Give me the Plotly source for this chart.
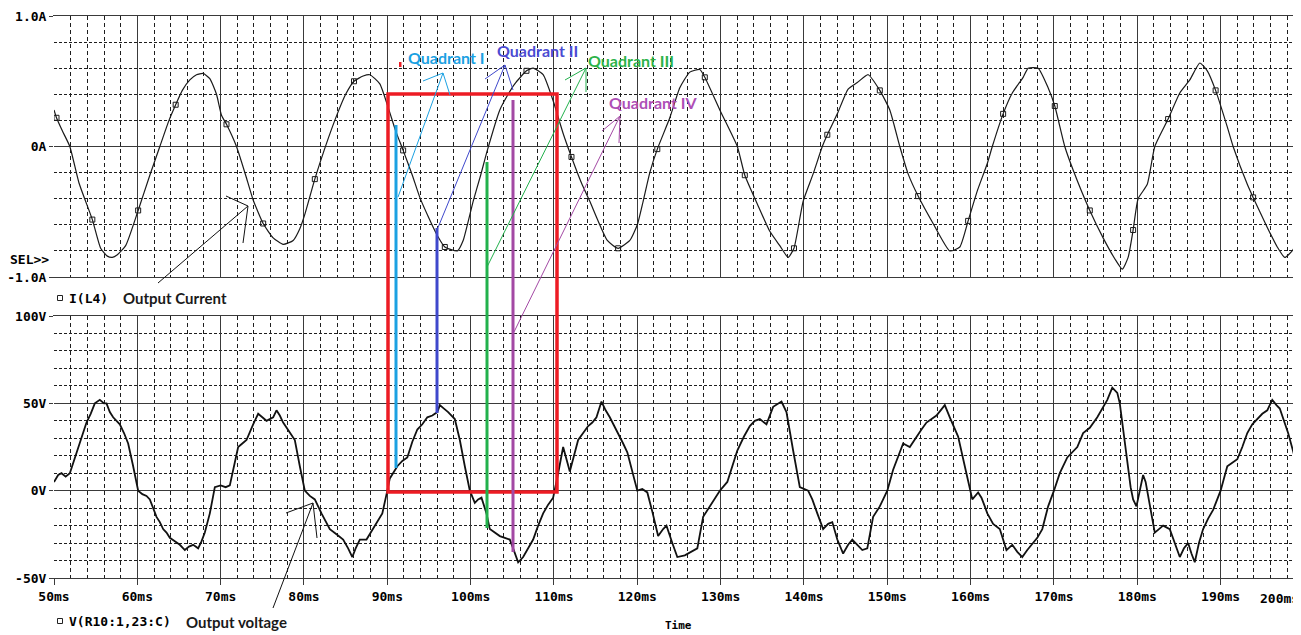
import plotly.graph_objects as go

# ---------------- data ----------------
x_ticks = [50, 60, 70, 80, 90, 100, 110, 120, 130, 140, 150, 160, 170, 180, 190, 200]
x_labels = ["50ms", "60ms", "70ms", "80ms", "90ms", "100ms", "110ms", "120ms", "130ms",
            "140ms", "150ms", "160ms", "170ms", "180ms", "190ms", "200ms"]
i_ticks = [-1, 0, 1]
i_labels = ["-1.0A", "0A", "1.0A"]
v_ticks = [-50, 0, 50, 100]
v_labels = ["-50V", "0V", "50V", "100V"]

# output current I(L4)  (time ms, amps)
cur_t = [50.0, 50.3, 51.0, 51.9, 53.0, 54.6, 55.6, 56.4, 57.0, 57.6, 58.6, 60.1, 61.5, 62.7, 63.8,
         64.6, 65.4, 66.3, 67.1, 67.9, 68.7, 69.5, 70.1, 70.7, 71.9, 73.0, 73.9, 75.1, 76.3, 77.5,
         78.7, 79.5, 80.1, 81.3, 82.9, 84.0, 85.0, 86.0, 87.1, 87.9, 89.1, 90.1, 91.0, 91.9, 93.0,
         93.9, 95.0, 95.9, 96.9, 98.4, 99.1, 100.3, 101.2, 102.0, 103.5, 104.5, 105.3, 106.7, 107.5,
         108.7, 109.9, 111.1, 112.1, 113.3, 114.3, 116.4, 117.7, 119.1, 120.0, 120.7, 121.5, 122.4,
         123.9, 125.1, 126.3, 127.5, 128.1, 129.9, 132.0, 132.9, 134.4, 135.9, 137.1, 138.1, 138.8,
         139.9, 141.1, 142.2, 142.8, 144.0, 145.3, 146.4, 147.7, 149.1, 150.3, 151.5, 152.5, 153.7,
         155.5, 157.5, 158.7, 159.7, 160.8, 162.0, 162.6, 163.9, 165.0, 166.3, 166.9, 168.1, 169.3,
         170.1, 171.3, 172.3, 174.3, 175.9, 177.3, 178.2, 178.9, 179.5, 180.1, 181.2, 182.1, 183.7,
         185.1, 186.3, 187.5, 188.4, 189.4, 190.8, 191.5, 193.2, 193.9, 195.6, 196.8, 197.7, 198.7,
         199.5, 200.0]
cur_v = [0.28, 0.22, 0.12, 0.0, -0.28, -0.56, -0.78, -0.84, -0.85, -0.83, -0.76, -0.49, -0.22, 0.0, 0.2,
         0.32, 0.43, 0.51, 0.55, 0.56, 0.52, 0.40, 0.24, 0.17, 0.0, -0.22, -0.41, -0.59, -0.70, -0.75,
         -0.72, -0.63, -0.52, -0.25, 0.06, 0.25, 0.40, 0.50, 0.54, 0.55, 0.48, 0.30, 0.12, -0.03, -0.22,
         -0.39, -0.55, -0.67, -0.77, -0.80, -0.72, -0.42, -0.22, -0.03, 0.28, 0.40, 0.48, 0.58, 0.60,
         0.55, 0.35, 0.10, -0.08, -0.28, -0.42, -0.72, -0.78, -0.72, -0.60, -0.42, -0.20, -0.02,
         0.22, 0.45, 0.57, 0.59, 0.53, 0.28, 0.0, -0.22, -0.44, -0.65, -0.76, -0.85, -0.78,
         -0.42, -0.21, 0.0, 0.09, 0.25, 0.44, 0.49, 0.55, 0.43, 0.28, 0.0, -0.21, -0.38,
         -0.59, -0.80, -0.77, -0.57, -0.34, -0.13, 0.0, 0.25, 0.41, 0.53, 0.60, 0.60, 0.45,
         0.31, 0.0, -0.18, -0.49, -0.70, -0.86, -0.94, -0.85, -0.64, -0.40, -0.29, 0.0, 0.21,
         0.41, 0.51, 0.64, 0.58, 0.43, 0.15, 0.0, -0.29, -0.39, -0.62, -0.77, -0.85, -0.79,
         -0.64, -0.55]

# trace symbol positions on I(L4)
mk_t = [50.3, 54.6, 60.1, 64.6, 70.7, 75.1, 81.3, 86.0, 91.9, 96.9, 106.7, 112.1, 117.7, 122.4,
        128.1, 132.9, 138.8, 142.8, 149.1, 153.7, 159.7, 163.9, 170.1, 174.3, 179.5, 183.7, 189.4,
        193.9, 199.5]
mk_v = [0.22, -0.56, -0.49, 0.32, 0.17, -0.59, -0.25, 0.50, -0.03, -0.77, 0.58, -0.08, -0.78, -0.02,
        0.53, -0.22, -0.78, 0.09, 0.43, -0.38, -0.57, 0.25, 0.31, -0.49, -0.64, 0.21, 0.43,
        -0.39, -0.64]

# output voltage V(R10:1,23:C)  (time ms, volts)
volt_t = [50.0, 50.5, 50.9, 51.4, 51.9, 52.4, 52.9, 53.4, 53.9, 54.4, 54.9, 55.5, 56.0, 56.3, 56.7,
          57.1, 57.5, 57.9, 58.4, 58.9, 59.5, 60.1, 60.6, 61.1, 61.5, 62.3, 62.7, 63.1, 63.5, 63.9,
          64.5, 65.1, 65.7, 66.2, 66.7, 67.3, 67.7, 68.1, 68.7, 69.3, 70.0, 70.6, 71.1, 71.6, 72.1,
          72.6, 73.1, 73.9, 74.5, 75.0, 75.5, 76.3, 76.7, 77.1, 77.5, 78.2, 78.9, 79.5, 80.1, 80.7,
          81.3, 82.1, 83.1, 83.9, 84.7, 85.3, 85.8, 86.2, 86.7, 87.5, 88.0, 88.5, 89.4, 90.0, 90.3,
          91.2, 91.8, 92.4, 93.0, 93.6, 94.2, 94.8, 95.4, 96.0, 96.3, 96.8, 97.3, 98.1, 98.7, 99.3,
          99.9, 100.5, 100.9, 101.3, 101.9, 102.3, 102.9, 103.5, 104.1, 104.7, 105.1, 105.7, 106.3,
          106.9, 107.5, 108.1, 108.7, 109.3, 109.9, 110.5, 111.1, 111.5, 111.9, 112.4, 112.9, 113.5,
          114.1, 114.6, 115.1, 115.7, 116.2, 116.7, 117.7, 118.3, 118.8, 119.4, 120.0, 120.6, 121.2,
          121.8, 122.5, 123.1, 123.5, 124.2, 124.8, 125.7, 126.5, 127.2, 127.9, 128.7, 129.9, 130.8,
          131.4, 132.0, 132.8, 133.5, 134.1, 134.7, 135.5, 136.3, 137.3, 137.9, 138.7, 139.5, 140.5,
          141.0, 141.6, 142.3, 142.9, 143.4, 144.0, 144.7, 145.3, 145.8, 146.4, 147.0, 147.6, 148.3,
          149.1, 150.0, 150.7, 151.3, 151.9, 152.7, 153.5, 154.1, 154.7, 155.3, 155.9, 156.4, 156.9,
          157.5, 158.5, 159.3, 160.2, 160.9, 161.3, 161.7, 162.0, 162.7, 163.5, 164.3, 165.0, 165.6,
          166.2, 166.8, 167.5, 168.0, 168.6, 169.3, 170.0, 170.7, 171.6, 172.2, 172.8, 173.5, 174.3,
          175.2, 175.8, 176.4, 177.0, 177.6, 177.9, 178.3, 178.7, 179.2, 179.5, 179.9, 180.3, 180.7,
          181.0, 181.3, 181.7, 182.1, 182.6, 183.1, 183.9, 184.5, 185.1, 185.6, 186.1, 186.5, 186.9,
          187.4, 187.9, 188.5, 189.1, 190.0, 190.8, 191.4, 192.0, 192.6, 193.2, 193.8, 194.4, 195.0,
          195.6, 196.2, 196.7, 197.1, 197.6, 198.1, 198.9, 199.6, 200.0]
volt_v = [5, 9, 10, 8, 10, 17, 25, 31, 39, 44, 50, 52, 50, 50, 45,
          42, 40, 38, 33, 27, 14, 0, -2, -3, -5, -15, -18, -22, -24, -27,
          -29, -31, -34, -32, -31, -33, -29, -24, -13, 2, 3, 2, 3, 14, 25,
          27, 29, 38, 44, 42, 40, 42, 46, 43, 39, 34, 29, 14, 0, -3,
          -5, -13, -22, -25, -28, -33, -38, -33, -28, -28, -24, -20, -13, 0, 7,
          14, 17, 19, 28, 35, 38, 42, 43, 45, 49, 47, 45, 41, 29, 14,
          0, -7, -5, -4, -13, -22, -24, -26, -27, -28, -33, -41, -38,
          -33, -28, -20, -13, -8, -4, 10, 25, 18, 11, 20, 29, 33,
          37, 39, 42, 51, 46, 42, 33, 27, 22, 11, 0, 1, -1,
          -12, -26, -22, -20, -30, -38, -37, -35, -33, -15, -9, 0, 5,
          14, 23, 31, 37, 40, 41, 38, 48, 51, 45, 23, 2, 0,
          -5, -13, -22, -19, -18, -28, -36, -31, -28, -31, -34, -33, -15,
          -9, 0, 12, 20, 27, 25, 31, 35, 39, 41, 43, 46, 49,
          42, 31, 14, -5, -1, -4, -9, -13, -19, -22, -34, -31, -35,
          -38, -34, -30, -27, -22, -9, 0, 10, 19, 22, 25, 33, 36,
          42, 47, 52, 59, 56, 50, 35, 19, 2, -5, -9, 0, 9,
          5, -3, -14, -24, -22, -20, -22, -30, -38, -33, -30, -36, -41,
          -30, -22, -16, -11, 0, 14, 16, 18, 25, 33, 38, 41, 44,
          46, 52, 49, 47, 40, 33, 19, 2, -4]

# ---------------- layout helpers ----------------
# the page has an 8px body margin, so the figure is drawn 8px in from the
# window corner; page pixel positions are converted to figure paper coords.
OFF = 8
W, H = 1301 - OFF, 635 - OFF


def px(x):
    return (x - OFF) / W


def py(y):
    return 1 - (y - OFF) / H


MONO = "DejaVu Sans Mono"
SANS = "Lato"
GRID_SOLID = "#3a3a3a"
GRID_DASH = "#1e1e1e"

fig = go.Figure()
fig.add_trace(go.Scatter(x=cur_t, y=cur_v, mode="lines", xaxis="x", yaxis="y",
                         line=dict(color="#1a1a1a", width=1.2, shape="spline", smoothing=0.5),
                         showlegend=False, hoverinfo="skip"))
fig.add_trace(go.Scatter(x=mk_t, y=mk_v, mode="markers", xaxis="x", yaxis="y",
                         marker=dict(symbol="square-open", size=5, color="#1a1a1a", line=dict(width=1)),
                         showlegend=False, hoverinfo="skip"))
fig.add_trace(go.Scatter(x=volt_t, y=volt_v, mode="lines", xaxis="x2", yaxis="y2",
                         line=dict(color="#111111", width=1.8),
                         showlegend=False, hoverinfo="skip"))

xdom = [px(54), 1.0]
xcommon = dict(range=[50, 50 + (1301 - 54) / 8.333], domain=xdom,
               tickvals=x_ticks[:-1], ticktext=x_labels[:-1], automargin=False,
               showgrid=True, gridcolor=GRID_SOLID, gridwidth=1, zeroline=False,
               showline=True, linecolor=GRID_SOLID, linewidth=1.3, mirror=True,
               minor=dict(dtick=2, tick0=50, showgrid=True, gridcolor=GRID_DASH,
                          griddash="4px,3px", gridwidth=1, ticks=""))

tickfont = dict(family=MONO, size=13, color="#000000", weight="bold")

fig.update_layout(
    width=W, height=H,
    margin=dict(l=0, r=0, t=0, b=0),
    paper_bgcolor="white", plot_bgcolor="white",
    showlegend=False,
    xaxis=dict(**xcommon, anchor="y", showticklabels=False, ticks=""),
    xaxis2=dict(**xcommon, anchor="y2", showticklabels=True, ticks="outside", ticklen=6,
                tickcolor=GRID_SOLID, tickfont=tickfont),
    yaxis=dict(domain=[py(277), py(16)], range=[-1, 1], anchor="x", automargin=False,
               tickvals=i_ticks, ticktext=i_labels, tickfont=tickfont,
               ticks="outside", ticklen=4, tickcolor=GRID_SOLID,
               showgrid=True, gridcolor=GRID_SOLID, gridwidth=1, zeroline=False,
               showline=True, linecolor="rgba(0,0,0,0)", mirror=True,
               minor=dict(dtick=0.2, tick0=0, showgrid=True, gridcolor=GRID_DASH,
                          griddash="3px,2px", gridwidth=1, ticks="")),
    yaxis2=dict(domain=[py(578), py(316)], range=[-50, 100], anchor="x2", automargin=False,
                tickvals=v_ticks, ticktext=v_labels, tickfont=tickfont,
                ticks="outside", ticklen=4, tickcolor=GRID_SOLID,
                showgrid=True, gridcolor=GRID_SOLID, gridwidth=1, zeroline=False,
                showline=True, linecolor="rgba(0,0,0,0)", mirror=True,
                minor=dict(dtick=10, tick0=0, showgrid=True, gridcolor=GRID_DASH,
                           griddash="3px,2px", gridwidth=1, ticks="")),
)

# ---------------- overlays ----------------
C_Q1 = "#1ba1e2"
C_Q2 = "#3f48cc"
C_Q3 = "#22b14c"
C_Q4 = "#a349a4"
C_RED = "#ed1c24"

shapes = []


def seg(x0, y0, x1, y1, color, width):
    shapes.append(dict(type="line", xref="paper", yref="paper", x0=px(x0), y0=py(y0),
                       x1=px(x1), y1=py(y1), line=dict(color=color, width=width), layer="above"))


# red box
shapes.append(dict(type="rect", xref="paper", yref="paper", x0=px(388), x1=px(557),
                   y0=py(492), y1=py(94), line=dict(color=C_RED, width=3.5), layer="above"))
# small red tick
shapes.append(dict(type="rect", xref="paper", yref="paper", x0=px(399), x1=px(401.5),
                   y0=py(67), y1=py(62), line=dict(width=0), fillcolor=C_RED, layer="above"))

# thick coloured markers
seg(396, 125, 396, 468, C_Q1, 3)
seg(437, 228, 437, 413, C_Q2, 3)
seg(487, 162, 487, 528, C_Q3, 3)
seg(513, 100, 513, 552, C_Q4, 3)

# thin arrows
seg(398, 197, 443, 73, C_Q1, 1)
seg(443, 73, 423, 81, C_Q1, 1)
seg(443, 73, 450, 95, C_Q1, 1)

seg(437, 230, 505, 65, C_Q2, 1)
seg(505, 65, 485, 79, C_Q2, 1)
seg(505, 65, 513, 90, C_Q2, 1)

seg(487, 267, 586, 68, C_Q3, 1)
seg(586, 68, 565, 80, C_Q3, 1)
seg(586, 68, 586, 92, C_Q3, 1)

seg(514, 332, 620, 116, C_Q4, 1)
seg(620, 116, 602, 131, C_Q4, 1)
seg(620, 116, 619, 143, C_Q4, 1)

seg(158, 283, 248, 206, "#111111", 1)
seg(248, 206, 226, 196, "#111111", 1)
seg(248, 206, 243, 243, "#111111", 1)

seg(273, 608, 313, 503, "#111111", 1)
seg(313, 503, 286, 513, "#111111", 1)
seg(313, 503, 317, 538, "#111111", 1)

# legend symbols
for yy in (298, 621):
    shapes.append(dict(type="rect", xref="paper", yref="paper", x0=px(57.5), x1=px(62.5),
                       y0=py(yy + 2.5), y1=py(yy - 2.5), line=dict(color="#222", width=1)))

fig.update_layout(shapes=shapes)

ann = []


def label(text, x, y, color="#000000", family=SANS, size=15, anchor="left", bold=False):
    t = "<b>" + text + "</b>" if bold else text
    ann.append(dict(text=t, xref="paper", yref="paper", x=px(x), y=py(y), xanchor=anchor,
                    yanchor="middle", showarrow=False,
                    font=dict(family=family, size=size, color=color)))


label("Quadrant I", 406, 57, C_Q1, size=16, bold=True)
label("Quadrant II", 495, 50, "#4b4bd2", size=16, bold=True)
label("Quadrant III", 586, 61, "#2db34a", size=16, bold=True)
label("Quadrant IV", 607, 102, "#ae4fb6", size=16, bold=True)

label("SEL>>", 8, 259, "#000", MONO, 13, bold=True)
label("I(L4)", 67, 298, "#000", MONO, 13, bold=True)
label("Output Current", 121, 298, "#1a1a1a", SANS, 15, bold=True)
label("V(R10:1,23:C)", 67, 621, "#000", MONO, 13, bold=True)
label("Output voltage", 184, 622, "#1a1a1a", SANS, 15, bold=True)

# last tick label, kept inside the window at the right edge
label(x_labels[-1], 1301, 598, "#000", MONO, 13, anchor="right", bold=True)

ann.append(dict(text="<b>Time</b>", xref="paper", yref="paper", x=px(678), y=py(634),
                xanchor="center", yanchor="bottom", showarrow=False,
                font=dict(family=MONO, size=11, color="#000")))

fig.update_layout(annotations=ann)

fig.write_html("out.html")
